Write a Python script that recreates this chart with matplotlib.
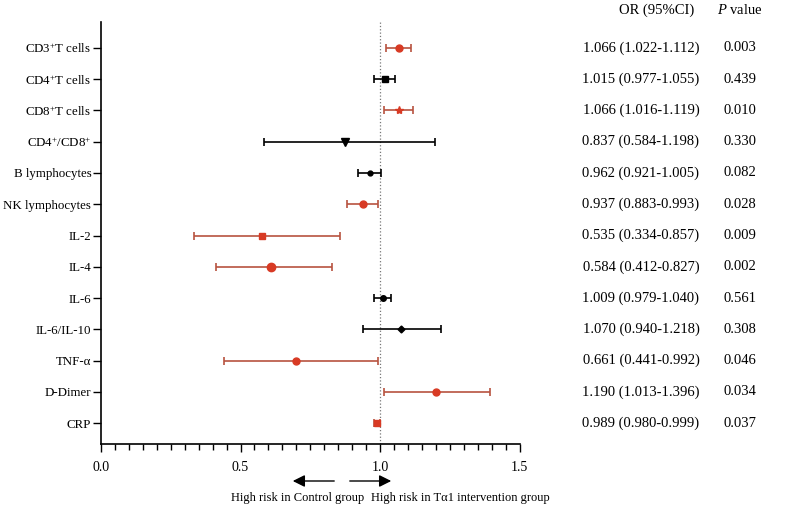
import matplotlib
matplotlib.use('Agg')
import matplotlib.pyplot as plt
import numpy as np

plt.rcParams['font.family'] = ['Liberation Serif', 'DejaVu Serif']
plt.rcParams['mathtext.fontset'] = 'custom'
plt.rcParams['mathtext.rm'] = 'Liberation Serif'
plt.rcParams['mathtext.it'] = 'Liberation Serif:italic'

labels = [r'CD3$^{+}$T cells', r'CD4$^{+}$T cells', r'CD8$^{+}$T cells', r'CD4$^{+}$/CD8$^{+}$',
          'B lymphocytes', 'NK lymphocytes', 'IL-2', 'IL-4', 'IL-6', 'IL-6/IL-10',
          'TNF-α', 'D-Dimer', 'CRP']
# marker positions as drawn in the plot
points = [1.068, 1.018, 1.068, 0.875, 0.964, 0.938, 0.578, 0.608, 1.012, 1.077, 0.699, 1.200, 0.989]
or_vals = [1.066, 1.015, 1.066, 0.837, 0.962, 0.937, 0.535, 0.584, 1.009, 1.070, 0.661, 1.190, 0.989]
ci_low = [1.022, 0.977, 1.016, 0.584, 0.921, 0.883, 0.334, 0.412, 0.979, 0.940, 0.441, 1.013, 0.980]
ci_high = [1.112, 1.055, 1.119, 1.198, 1.005, 0.993, 0.857, 0.827, 1.040, 1.218, 0.992, 1.396, 0.999]
p_vals = ['0.003', '0.439', '0.010', '0.330', '0.082', '0.028', '0.009', '0.002',
          '0.561', '0.308', '0.046', '0.034', '0.037']
significant = [True, False, True, False, False, True, True, True, False, False, True, True, True]
markers = ['o', 's', '*', 'v', 'o', 'o', 's', 'o', 'o', 'D', 'o', 'o', 's']
msizes = [5, 5, 6, 6, 3.5, 5, 5, 6, 4, 3.5, 5, 5, 5]

red_pt = '#d83a24'
red_line = '#b8533f'

W, H = 787, 509
fig = plt.figure(figsize=(W / 100, H / 100), dpi=100)
ax = fig.add_axes([101 / W, 1 - 444 / H, 418.5 / W, 422 / H])

ax.axvline(1.0, color='#777777', linestyle=':', lw=0.9, zorder=1)

for i in range(len(labels)):
    lc = red_line if significant[i] else 'black'
    pc = red_pt if significant[i] else 'black'
    ax.errorbar(points[i], i, xerr=[[points[i] - ci_low[i]], [ci_high[i] - points[i]]],
                fmt='none', ecolor=lc, elinewidth=1.2, capsize=3, capthick=1.2, zorder=2)
    ax.plot(points[i], i, marker=markers[i], color=pc, markersize=msizes[i],
            linestyle='none', zorder=3)

ax.set_xlim(0, 1.5)
ax.set_ylim(12.67, -0.83)
ax.set_yticks(range(len(labels)))
ax.set_yticklabels(labels, fontsize=9.3)
ax.set_xticks([0, 0.5, 1.0, 1.5])
ax.set_xticklabels(['0.0', '0.5', '1.0', '1.5'], fontsize=10)
ax.set_xticks(np.arange(0, 1.5001, 0.05), minor=True)
ax.tick_params(axis='x', which='major', direction='out', length=6, width=1, pad=6)
ax.tick_params(axis='x', which='minor', direction='out', length=4, width=1)
ax.tick_params(axis='y', which='major', direction='out', length=6, width=1, pad=1)
for s in ['top', 'right']:
    ax.spines[s].set_visible(False)
for s in ['left', 'bottom']:
    ax.spines[s].set_linewidth(1.2)

# table columns (x in figure fraction, y in data)
trans = matplotlib.transforms.blended_transform_factory(fig.transFigure, ax.transData)
fig.text(657 / W, 1 - 10 / H, 'OR (95%CI)', ha='center', va='center', fontsize=10.5)
fig.text(740 / W, 1 - 10 / H, r'$\mathit{P}$ value', ha='center', va='center', fontsize=10.5)
for i in range(len(labels)):
    ax.text(641 / W, i, f'{or_vals[i]:.3f} ({ci_low[i]:.3f}-{ci_high[i]:.3f})',
            transform=trans, ha='center', va='center', fontsize=10.5)
    ax.text(740 / W, i, p_vals[i], transform=trans, ha='center', va='center', fontsize=10.5)

# direction arrows
ay = 1 - 481 / H
fig.patches.append(matplotlib.patches.FancyArrowPatch(
    (337 / W, ay), (290 / W, ay), transform=fig.transFigure,
    arrowstyle='-|>', color='black', lw=1, mutation_scale=18))
fig.patches.append(matplotlib.patches.FancyArrowPatch(
    (347 / W, ay), (394 / W, ay), transform=fig.transFigure,
    arrowstyle='-|>', color='black', lw=1, mutation_scale=18))
fig.text(364 / W, 1 - 498 / H, 'High risk in Control group', ha='right', va='center', fontsize=9)
fig.text(371 / W, 1 - 498 / H, 'High risk in Tα1 intervention group', ha='left', va='center', fontsize=9)

fig.savefig('out.png', dpi=100)
